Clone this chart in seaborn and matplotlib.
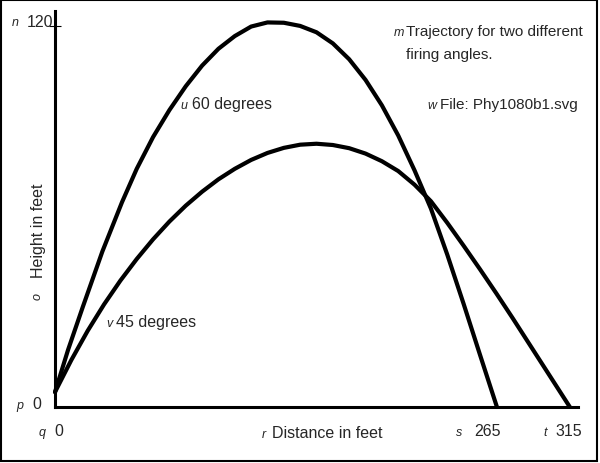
import matplotlib
matplotlib.use("Agg")
import matplotlib.pyplot as plt
import seaborn as sns
import pandas as pd

# trajectory readings (distance in feet, height in feet)
dist_60 = [0, 8, 17, 29, 41, 50, 60, 70, 80, 90, 100, 110, 120, 130, 140, 150,
           160, 170, 180, 190, 200, 210, 220, 230, 240, 250, 260, 270.4]
height_60 = [4.7, 18, 31.5, 49, 64.5, 75, 85, 93.5, 101, 107.5, 112.8, 116.8, 119.8, 121.1,
             121, 120, 118, 114.5, 109.5, 103, 95, 85.5, 74.5, 62.5, 48, 32.5, 16.5, 0]

dist_45 = [0, 10, 20, 30, 40, 50, 60, 70, 80, 90, 100, 110, 120, 130, 140, 150, 160,
           170, 180, 190, 200, 210, 220, 230, 240, 250, 260, 270, 280, 290, 300, 310, 315]
height_45 = [4.7, 14.8, 24, 32.3, 39.8, 46.6, 52.8, 58.4, 63.4, 67.8, 71.7, 75, 77.8,
             80, 81.6, 82.6, 82.9, 82.5, 81.5, 79.8, 77.4, 74.3, 70, 64.8, 58, 50.8,
             43.4, 35.8, 28, 20, 12, 4, 0]

y_tick = [120]
x_max = 320
y_max = 124.7

sns.set_style("white")
plt.rcParams["font.family"] = ["Liberation Sans", "DejaVu Sans"]

df = pd.concat([
    pd.DataFrame({"distance": dist_60, "height": height_60, "angle": "60 degrees"}),
    pd.DataFrame({"distance": dist_45, "height": height_45, "angle": "45 degrees"}),
])

W, H = 600, 464
fig = plt.figure(figsize=(6, 4.64), dpi=100)
ax = fig.add_axes([55 / W, 56 / H, 523 / W, 396 / H])

sns.lineplot(data=df, x="distance", y="height", units="angle", estimator=None,
             color="black", linewidth=3, sort=False, legend=False, ax=ax, clip_on=False)

ax.set_xlim(0, x_max)
ax.set_ylim(0, y_max)
ax.set_xticks([])
ax.set_yticks(y_tick)
ax.set_yticklabels([])
ax.tick_params(axis="y", direction="inout", length=8, width=0.8, color="black", left=True)
ax.set_xlabel("")
ax.set_ylabel("")
for side in ["top", "right"]:
    ax.spines[side].set_visible(False)
for side in ["left", "bottom"]:
    ax.spines[side].set_linewidth(2.2)
    ax.spines[side].set_color("black")


def px(x, y):
    return x / W, 1 - y / H


def tag(x, y, s, **kw):
    fig.text(*px(x, y), s, fontsize=9, style="italic", va="baseline", **kw)


def label(x, y, s, size=11.5, **kw):
    fig.text(*px(x, y), s, fontsize=size, va="baseline", **kw)


tag(12, 26, "n"); label(27, 27, "120")
tag(16, 409, "p"); label(32, 409, "0")
tag(39, 436, "q"); label(54, 436, "0")
tag(262, 438, "r"); label(272, 438, "Distance in feet")
tag(456, 436, "s"); label(474, 436, "265")
tag(543, 436, "t"); label(555, 436, "315")
tag(394, 36, "m"); label(406, 36, "Trajectory for two different", size=11)
label(406, 59, "firing angles.", size=11)
tag(427, 109, "w"); label(440, 109, "File: Phy1080b1.svg", size=11)
tag(180, 109, "u"); label(192, 109, "60 degrees")
tag(106, 327, "v"); label(116, 327, "45 degrees")
fig.text(*px(39, 231), "Height in feet", fontsize=11.5, rotation=90, ha="center", va="center")
fig.text(*px(38, 297), "o", fontsize=9, style="italic", rotation=90, ha="center", va="center")

# outer frame
fig.add_artist(plt.Rectangle((1 / W, 2 / H), 596 / W, 461 / H, transform=fig.transFigure,
                             fill=False, edgecolor="black", linewidth=1.5))

fig.savefig("out.png", dpi=100)
plt.close(fig)
